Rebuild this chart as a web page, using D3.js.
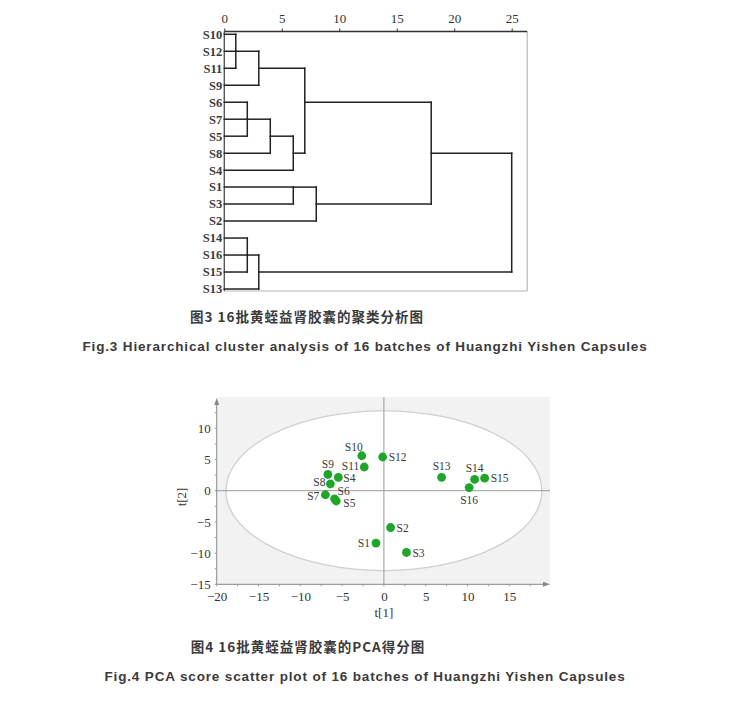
<!DOCTYPE html>
<html><head><meta charset="utf-8">
<script src="https://cdn.jsdelivr.net/npm/d3@7"></script>
<style>
body{margin:0;background:#fff;}
svg{display:block;}
</style></head>
<body>
<svg id="chart" width="732" height="716"></svg>
<script>
// ---------- Dendrogram data ----------
const leafOrder = ["S10","S12","S11","S9","S6","S7","S5","S8","S4","S1","S3","S2","S14","S16","S15","S13"];
// merges: [id, childA, childB, height]
const merges = [
  ["A","S10","S11",1],
  ["B","A","S12",1],
  ["C","B","S9",3],
  ["D","S6","S5",2],
  ["E","D","S7",2],
  ["F","E","S8",4],
  ["G","F","S4",6],
  ["H","C","G",7],
  ["I","S1","S3",6],
  ["J","I","S2",8],
  ["K","H","J",18],
  ["L","S14","S15",2],
  ["M","L","S16",2],
  ["N","M","S13",3],
  ["O","K","N",25]
];
const dendroTicks = [0,5,10,15,20,25];

// ---------- PCA data ----------
const sampleNames = ["S1","S2","S3","S4","S5","S6","S7","S8","S9","S10","S11","S12","S13","S14","S15","S16"];
const t1Values = [-0.95,0.8,2.7,-5.45,-5.7,-5.9,-7.0,-6.4,-6.7,-2.65,-2.35,-0.15,6.9,10.85,12.05,10.2];
const t2Values = [-8.4,-5.9,-9.9,2.15,-1.65,-1.3,-0.65,1.1,2.6,5.6,3.8,5.4,2.15,1.8,2.0,0.5];
const labelSide = ["l","r","r","rd","br","tr","ld","lu","t","tl","lu","r","t","t","r","b"];
const pcaXTicks = [-20,-15,-10,-5,0,5,10,15];
const pcaYTicks = [-15,-10,-5,0,5,10];
const ellipseRadii = [18.9,12.8];

const svg = d3.select("#chart");
const serif = "'Liberation Serif','Times New Roman',serif";

// ================= Dendrogram =================
const dx = d3.scaleLinear().domain([0,25]).range([224.3,511.7]);
const dy = d3.scaleLinear().domain([0,15]).range([34.3,289]);
const frameRight = dx(26.35), frameTop = 31.5, frameBottom = 291;
const g1 = svg.append("g");

// frame
g1.append("line").attr("x1",frameRight).attr("x2",frameRight).attr("y1",frameTop).attr("y2",frameBottom).attr("stroke","#b8b8b8").attr("stroke-width",1.2);
g1.append("line").attr("x1",dx(0)).attr("x2",frameRight).attr("y1",frameBottom).attr("y2",frameBottom).attr("stroke","#b8b8b8").attr("stroke-width",1.2);

const topAxis = d3.axisTop(dx).tickValues(dendroTicks).tickSize(3).tickPadding(6).tickSizeOuter(0);
const ta = g1.append("g").attr("transform",`translate(0,${frameTop})`).call(topAxis);
ta.select(".domain").attr("d",`M${dx(0)},0H${frameRight}`).attr("stroke","#333").attr("stroke-width",1.4);
ta.selectAll(".tick line").attr("stroke","#333");
ta.selectAll("text").attr("font-family",serif).attr("font-size",13).attr("fill","#333");

// left axis
g1.append("line").attr("x1",dx(0)).attr("x2",dx(0)).attr("y1",frameTop).attr("y2",frameBottom).attr("stroke","#555").attr("stroke-width",1.4);

// compute cluster positions
const info = {};
leafOrder.forEach((n,i)=>{info[n]={row:i,h:0};});
const segs = [];
merges.forEach(([id,a,b,h])=>{
  const A=info[a], B=info[b];
  segs.push([A.h,A.row,h,A.row]);
  segs.push([B.h,B.row,h,B.row]);
  segs.push([h,A.row,h,B.row]);
  info[id] = {row:Math.floor((A.row+B.row)/2), h:h};
});
g1.selectAll("line.seg").data(segs).join("line").attr("class","seg")
  .attr("x1",d=>dx(d[0])).attr("y1",d=>dy(d[1]))
  .attr("x2",d=>dx(d[2])).attr("y2",d=>dy(d[3]))
  .attr("stroke","#222").attr("stroke-width",1.5).attr("stroke-linecap","square");

// leaf labels
g1.selectAll("text.leaf").data(leafOrder).join("text").attr("class","leaf")
  .attr("x",dx(0)-2).attr("y",(d,i)=>dy(i)).attr("dy","0.35em")
  .attr("text-anchor","end").attr("font-family",serif).attr("font-size",12.5)
  .attr("font-weight","bold").attr("fill","#3a3a3a").text(d=>d);

// captions
const cap = (txt,x,y,fam,size,ls) => svg.append("text").attr("x",x).attr("y",y)
  .attr("text-anchor","middle").attr("font-family",fam).attr("font-size",size)
  .attr("font-weight","bold").attr("fill","#3a3a3a").attr("letter-spacing",ls).text(txt);
cap("图3 16批黄蛭益肾胶囊的聚类分析图",307,322,"'Noto Sans CJK SC',sans-serif",13.5,"1px");
cap("Fig.3 Hierarchical cluster analysis of 16 batches of Huangzhi Yishen Capsules",365,351,"'Liberation Sans',Arial,sans-serif",13.5,"0.85px");
cap("图4 16批黄蛭益肾胶囊的PCA得分图",308,652,"'Noto Sans CJK SC',sans-serif",13.5,"1px");
cap("Fig.4 PCA score scatter plot of 16 batches of Huangzhi Yishen Capsules",365,681,"'Liberation Sans',Arial,sans-serif",13.5,"0.85px");

// ================= PCA =================
const px = d3.scaleLinear().domain([-20,15]).range([216.7,509.3]);
const py = d3.scaleLinear().domain([-15,10]).range([584.3,428.3]);
const plotRight = 550, plotTop = 397;
const g2 = svg.append("g");

g2.append("rect").attr("x",px(-20)).attr("y",plotTop).attr("width",plotRight-px(-20)).attr("height",py(-15)-plotTop).attr("fill","#f2f2f2");
g2.append("ellipse").attr("cx",px(0)).attr("cy",py(0))
  .attr("rx",px(ellipseRadii[0])-px(0)).attr("ry",py(0)-py(ellipseRadii[1]))
  .attr("fill","#fff").attr("stroke","#cfcfcf").attr("stroke-width",1.3);
// zero lines
g2.append("line").attr("x1",px(-20)).attr("x2",plotRight).attr("y1",py(0)).attr("y2",py(0)).attr("stroke","#9a9a9a").attr("stroke-width",1);
g2.append("line").attr("x1",px(0)).attr("x2",px(0)).attr("y1",plotTop).attr("y2",py(-15)).attr("stroke","#9a9a9a").attr("stroke-width",1);

// axes
const minorX = d3.range(-20,17.6,2.5), minorY = d3.range(-15,12.6,2.5);
const xAxis = d3.axisBottom(px).tickValues(pcaXTicks).tickSize(0).tickPadding(7).tickFormat(d3.format("d"));
const xa = g2.append("g").attr("transform",`translate(0,${py(-15)})`).call(xAxis);
xa.select(".domain").remove();
xa.selectAll("text").attr("font-family",serif).attr("font-size",13).attr("fill","#333").text(d=>d<0?"\u2212"+Math.abs(d):d);
g2.append("line").attr("x1",px(-20)).attr("x2",plotRight-4).attr("y1",py(-15)).attr("y2",py(-15)).attr("stroke","#888").attr("stroke-width",1);
g2.append("path").attr("d",`M${plotRight},${py(-15)}l-7,-2.5v5z`).attr("fill","#888");
g2.selectAll("line.mx").data(minorX).join("line").attr("class","mx")
  .attr("x1",d=>px(d)).attr("x2",d=>px(d)).attr("y1",py(-15)).attr("y2",py(-15)+2).attr("stroke","#999");

const yAxis = d3.axisLeft(py).tickValues(pcaYTicks).tickSize(0).tickPadding(6).tickFormat(d3.format("d"));
const ya = g2.append("g").attr("transform",`translate(${px(-20)},0)`).call(yAxis);
ya.select(".domain").remove();
ya.selectAll("text").attr("font-family",serif).attr("font-size",13).attr("fill","#333").text(d=>d<0?"\u2212"+Math.abs(d):d);
g2.append("line").attr("x1",px(-20)).attr("x2",px(-20)).attr("y1",py(-15)).attr("y2",plotTop+6).attr("stroke","#888").attr("stroke-width",1);
g2.append("path").attr("d",`M${px(-20)},${plotTop+1}l-2.5,7h5z`).attr("fill","#888");
g2.selectAll("line.my").data(minorY).join("line").attr("class","my")
  .attr("x1",px(-20)-2).attr("x2",px(-20)).attr("y1",d=>py(d)).attr("y2",d=>py(d)).attr("stroke","#999");

// axis titles
g2.append("text").attr("x",px(0)).attr("y",617).attr("text-anchor","middle").attr("font-family",serif).attr("font-size",13).attr("fill","#333").text("t[1]");
g2.append("text").attr("transform",`translate(186,${py(-1)}) rotate(-90)`).attr("text-anchor","middle").attr("font-family",serif).attr("font-size",13).attr("fill","#333").text("t[2]");

// points
const pts = sampleNames.map((n,i)=>({n,x:t1Values[i],y:t2Values[i],s:labelSide[i]}));
g2.selectAll("circle.pt").data(pts).join("circle").attr("class","pt")
  .attr("cx",d=>px(d.x)).attr("cy",d=>py(d.y)).attr("r",4.4).attr("fill","#1fa52a");
const off = {r:[6,0,"start"],rd:[5,1,"start"],l:[-6,0,"end"],lu:[-5,-1.5,"end"],ld:[-6,1.5,"end"],
  t:[0,-11,"middle"],b:[0,12,"middle"],tl:[-8,-9,"middle"],tr:[3,-8,"start"],br:[7,2,"start"]};
g2.selectAll("text.pl").data(pts).join("text").attr("class","pl")
  .attr("x",d=>px(d.x)+off[d.s][0]).attr("y",d=>py(d.y)+off[d.s][1]).attr("dy","0.35em")
  .attr("text-anchor",d=>off[d.s][2]).attr("font-family",serif).attr("font-size",11.5).attr("fill","#3a3a3a").text(d=>d.n);
</script>
</body></html>
